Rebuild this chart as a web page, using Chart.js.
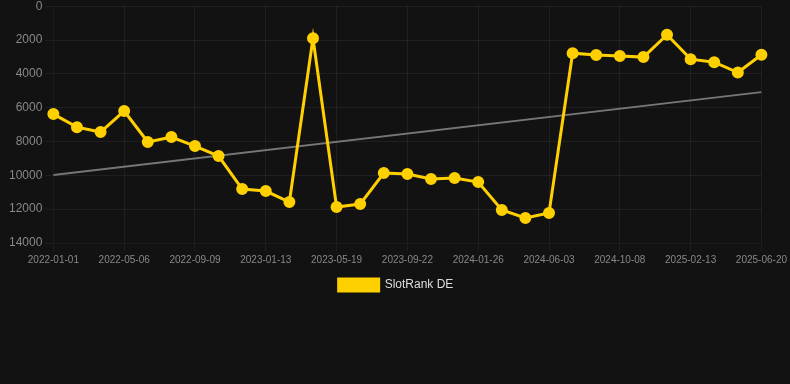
<!DOCTYPE html>
<html>
<head>
<meta charset="utf-8">
<script src="https://cdn.jsdelivr.net/npm/chart.js@4/dist/chart.umd.min.js"></script>
<style>
    html, body { margin: 0; padding: 0; background: #121212; overflow: hidden; }
    #wrap { width: 790px; height: 305px; position: relative; margin-top: -4px; }
</style>
</head>
<body>
<div id="wrap"><canvas id="rankChart"></canvas></div>
<script>
// dates (every third one is shown on the axis)
const dates = [
    "2022-01-01", "2022-02-11", "2022-03-25", "2022-05-06", "2022-06-16", "2022-07-28",
    "2022-09-09", "2022-10-20", "2022-12-01", "2023-01-13", "2023-02-23", "2023-04-06",
    "2023-05-19", "2023-06-29", "2023-08-10", "2023-09-22", "2023-11-02", "2023-12-14",
    "2024-01-26", "2024-03-07", "2024-04-18", "2024-06-03", "2024-07-12", "2024-08-23",
    "2024-10-08", "2024-11-19", "2024-12-31", "2025-02-13", "2025-03-26", "2025-05-07",
    "2025-06-20"
];

// rank values
const rankDE = [
    6380, 7150, 7440, 6200, 8030, 7740, 8270, 8860, 10810, 10930, 11580, 1890,
    11870, 11700, 9860, 9920, 10220, 10160, 10400, 12050, 12520, 12230,
    2780, 2890, 2950, 3010, 1690, 3130, 3310, 3920, 2870
];

// trend line: only the two ends are drawn
const trendEnds = [9980, 5080];
const trend = dates.map((d, i) => i === 0 ? trendEnds[0] : (i === dates.length - 1 ? trendEnds[1] : null));

const yTicks = [0, 2000, 4000, 6000, 8000, 10000, 12000, 14000];

const ctx = document.getElementById("rankChart");
new Chart(ctx, {
    type: 'line',
    data: {
        labels: dates,
        datasets: [
            {
                label: "SlotRank DE",
                data: rankDE,
                borderColor: '#ffd000',
                backgroundColor: '#ffd000',
                pointBackgroundColor: '#ffd000',
                pointBorderColor: '#ffd000',
                borderWidth: 3,
                pointRadius: 4.5,
                tension: 0,
                fill: false
            },
            {
                label: "trend",
                data: trend,
                borderColor: 'rgba(130,130,130,0.9)',
                borderWidth: 2,
                pointRadius: 0,
                spanGaps: true,
                fill: false
            }
        ]
    },
    options: {
        responsive: true,
        maintainAspectRatio: false,
        animation: false,
        layout: { padding: { left: 6, right: 4 } },
        plugins: {
            legend: {
                position: 'bottom',
                labels: {
                    color: '#dddddd',
                    font: { family: 'Liberation Sans, Arial', size: 12 },
                    boxWidth: 40,
                    boxHeight: 12,
                    filter: item => item.text !== "trend"
                }
            },
            tooltip: { enabled: false }
        },
        scales: {
            x: {
                grid: { color: 'rgba(255,255,255,0.06)' },
                ticks: {
                    color: '#888888',
                    font: { family: 'Liberation Sans, Arial', size: 10 },
                    maxRotation: 0,
                    autoSkip: true,
                    maxTicksLimit: 11
                }
            },
            y: {
                reverse: true,
                min: 0,
                max: 14000,
                afterBuildTicks: axis => { axis.ticks = yTicks.map(v => ({ value: v })); },
                grid: { color: 'rgba(255,255,255,0.06)' },
                ticks: {
                    color: '#888888',
                    font: { family: 'Liberation Sans, Arial', size: 12 },
                    callback: v => String(v)
                }
            }
        }
    }
});
</script>
</body>
</html>
